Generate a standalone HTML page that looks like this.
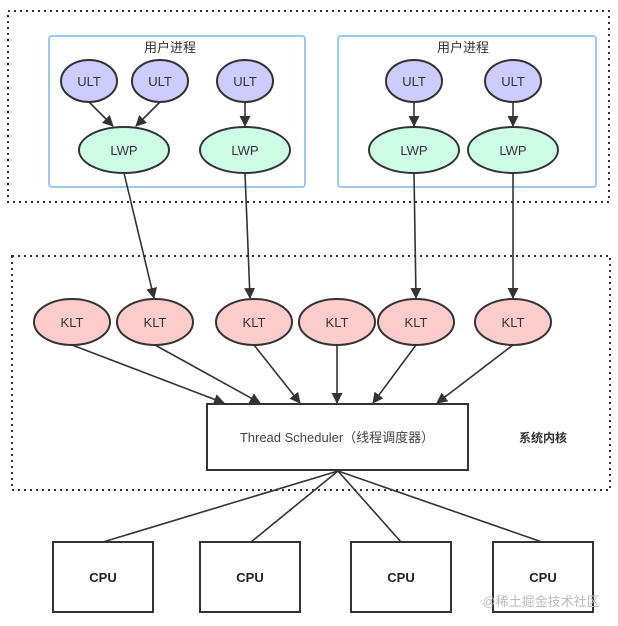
<!DOCTYPE html>
<html><head><meta charset="utf-8"><style>body{margin:0;background:#fff}svg{display:block}</style></head>
<body>
<svg width="618" height="626" viewBox="0 0 618 626" xmlns="http://www.w3.org/2000/svg" font-family="Liberation Sans, Noto Sans CJK SC, sans-serif">
<defs><marker id="a" markerWidth="11" markerHeight="11" refX="10" refY="5.5" orient="auto" markerUnits="userSpaceOnUse"><path d="M0,0 L11,5.5 L0,11 Z" fill="#333"/></marker></defs>
<rect x="8" y="11" width="601" height="191" fill="none" stroke="#333" stroke-width="2" stroke-dasharray="2,4"/>
<rect x="12" y="256" width="598" height="234" fill="none" stroke="#333" stroke-width="2" stroke-dasharray="2,4"/>
<rect x="49" y="36" width="256" height="151" rx="3" fill="none" stroke="#9ec8f0" stroke-width="2"/>
<rect x="338" y="36" width="258" height="151" rx="3" fill="none" stroke="#9ec8f0" stroke-width="2"/>
<g font-size="13" text-anchor="middle" fill="#333"><text x="170" y="52">用户进程</text><text x="463" y="52">用户进程</text></g>
<g stroke="#333" stroke-width="1.6" marker-end="url(#a)">
<line x1="89" y1="102" x2="113" y2="126"/><line x1="160" y1="102" x2="136" y2="126"/>
<line x1="245" y1="102" x2="245" y2="126"/><line x1="414" y1="102" x2="414" y2="126"/><line x1="513" y1="102" x2="513" y2="126"/>
<line x1="124" y1="173" x2="154" y2="298"/><line x1="245" y1="173" x2="250" y2="298"/>
<line x1="414" y1="173" x2="416" y2="298"/><line x1="513" y1="173" x2="513" y2="298"/>
<line x1="72" y1="345" x2="224" y2="403"/><line x1="155" y1="345" x2="260" y2="403"/>
<line x1="254" y1="345" x2="300" y2="403"/><line x1="337" y1="345" x2="337" y2="403"/>
<line x1="416" y1="345" x2="373" y2="403"/><line x1="513" y1="345" x2="437" y2="403"/>
</g>
<g stroke="#333" stroke-width="1.6">
<line x1="338" y1="471" x2="103" y2="542"/><line x1="338" y1="471" x2="251" y2="542"/>
<line x1="338" y1="471" x2="401" y2="542"/><line x1="338" y1="471" x2="542" y2="542"/>
</g>
<g fill="#ccccff" stroke="#333" stroke-width="2">
<ellipse cx="89" cy="81" rx="28" ry="21"/><ellipse cx="160" cy="81" rx="28" ry="21"/><ellipse cx="245" cy="81" rx="28" ry="21"/>
<ellipse cx="414" cy="81" rx="28" ry="21"/><ellipse cx="513" cy="81" rx="28" ry="21"/>
</g>
<g fill="#ccffe6" stroke="#333" stroke-width="2">
<ellipse cx="124" cy="150" rx="45" ry="23"/><ellipse cx="245" cy="150" rx="45" ry="23"/>
<ellipse cx="414" cy="150" rx="45" ry="23"/><ellipse cx="513" cy="150" rx="45" ry="23"/>
</g>
<g fill="#ffcccc" stroke="#333" stroke-width="2">
<ellipse cx="72" cy="322" rx="38" ry="23"/><ellipse cx="155" cy="322" rx="38" ry="23"/><ellipse cx="254" cy="322" rx="38" ry="23"/>
<ellipse cx="337" cy="322" rx="38" ry="23"/><ellipse cx="416" cy="322" rx="38" ry="23"/><ellipse cx="513" cy="322" rx="38" ry="23"/>
</g>
<g font-size="13" text-anchor="middle" fill="#333">
<text x="89" y="86">ULT</text><text x="160" y="86">ULT</text><text x="245" y="86">ULT</text><text x="414" y="86">ULT</text><text x="513" y="86">ULT</text>
<text x="124" y="155">LWP</text><text x="245" y="155">LWP</text><text x="414" y="155">LWP</text><text x="513" y="155">LWP</text>
<text x="72" y="327">KLT</text><text x="155" y="327">KLT</text><text x="254" y="327">KLT</text><text x="337" y="327">KLT</text><text x="416" y="327">KLT</text><text x="513" y="327">KLT</text>
</g>
<rect x="207" y="404" width="261" height="66" fill="#fff" stroke="#333" stroke-width="2"/>
<text x="337" y="442" font-size="13" text-anchor="middle" fill="#444">Thread Scheduler（线程调度器）</text>
<text x="543" y="442" font-size="12" text-anchor="middle" fill="#333" font-weight="bold">系统内核</text>
<g fill="#fff" stroke="#333" stroke-width="2">
<rect x="53" y="542" width="100" height="70"/><rect x="200" y="542" width="100" height="70"/>
<rect x="351" y="542" width="100" height="70"/><rect x="493" y="542" width="100" height="70"/>
</g>
<g font-size="13" font-weight="bold" text-anchor="middle" fill="#222">
<text x="103" y="582">CPU</text><text x="250" y="582">CPU</text><text x="401" y="582">CPU</text><text x="543" y="582">CPU</text>
</g>
<text x="541" y="606" font-size="13" text-anchor="middle" fill="#bbb">@稀土掘金技术社区</text>
</svg>
</body></html>
